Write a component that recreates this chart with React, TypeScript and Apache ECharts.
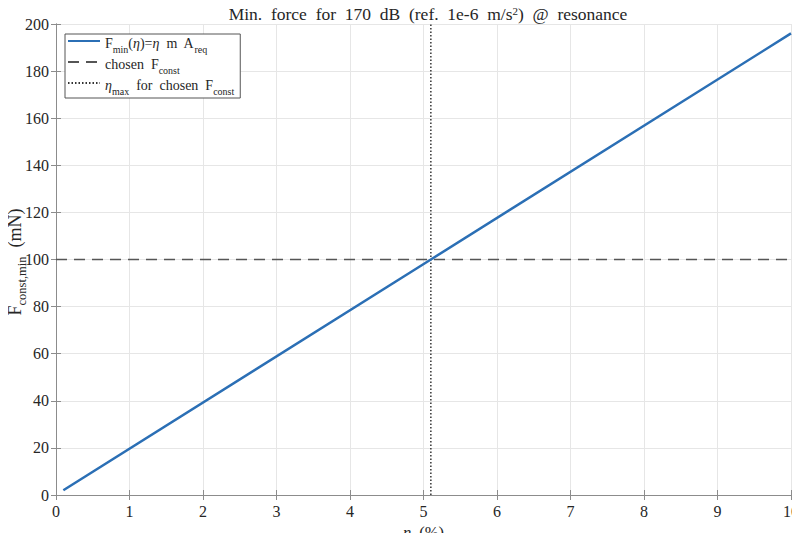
import { useEffect, useRef } from 'react';
import * as echarts from 'echarts';

// values
const etaLine = [0.1, 5.1, 10];
const forceLine = [2, 100, 196];
const chosenForce = 100;
const etaMax = 5.1;
const xTicks = [0, 1, 2, 3, 4, 5, 6, 7, 8, 9, 10];
const yTicks = [0, 20, 40, 60, 80, 100, 120, 140, 160, 180, 200];

const FONT = '"Liberation Serif", "Times New Roman", serif';
const TEXT = '#262626';
const AXIS = '#8c8c8c';

const rich = {
  n: { fontFamily: FONT, fontSize: 14, color: TEXT, lineHeight: 18, verticalAlign: 'bottom' },
  it: { fontFamily: FONT, fontSize: 14, color: TEXT, fontStyle: 'italic', lineHeight: 18, verticalAlign: 'bottom' },
  sub: { fontFamily: FONT, fontSize: 10, color: TEXT, lineHeight: 18, verticalAlign: 'bottom', padding: [0, 0, -4, 0] },
};

const legendNames = ['fmin', 'chosen', 'etamax'];
const legendLabels: Record<string, string> = {
  fmin: '{n|F}{sub|min}{n|(}{it|η}{n|)=}{it|η}{n|  m  A}{sub|req}',
  chosen: '{n|chosen  F}{sub|const}',
  etamax: '{it|η}{sub|max}{n|  for  chosen  F}{sub|const}',
};

const ChartView = () => {
  const containerRef = useRef<HTMLDivElement>(null);

  useEffect(() => {
    if (!containerRef.current) return;
    const chart = echarts.init(containerRef.current, null, { renderer: 'svg' });

    const tickStyle = { show: true, inside: true, length: 5, lineStyle: { color: AXIS } };
    const option: any = {
      animation: false,
      backgroundColor: '#ffffff',
      textStyle: { fontFamily: FONT },
      title: {
        text: 'Min.  force  for  170  dB  (ref.  1e-6  m/s{sup|2})  @  resonance',
        left: 423,
        textAlign: 'center',
        top: 0,
        textStyle: {
          fontFamily: FONT,
          fontSize: 17.5,
          fontWeight: 'normal',
          color: TEXT,
          rich: {
            sup: { fontFamily: FONT, fontSize: 11, color: TEXT, verticalAlign: 'top', padding: [0, 0, 7, 0] },
          },
        },
      },
      grid: { left: 56, right: 9, top: 24, bottom: 46, outerBoundsMode: 'none' },
      graphic: [
        {
          type: 'text',
          x: 13,
          y: 262,
          rotation: Math.PI / 2,
          style: {
            text: '{n|F}{sub|const,min}{n|  (mN)}',
            align: 'center',
            verticalAlign: 'middle',
            rich: {
              n: { fontFamily: FONT, fontSize: 18, fill: TEXT, lineHeight: 22, verticalAlign: 'bottom' },
              sub: { fontFamily: FONT, fontSize: 12.5, fill: TEXT, lineHeight: 22, verticalAlign: 'bottom', padding: [0, 0, -4, 0] },
            },
          },
        },
      ],
      legend: {
        data: legendNames,
        orient: 'vertical',
        left: 65,
        top: 34,
        itemWidth: 32,
        itemHeight: 12,
        itemGap: 3,
        padding: [2, 6, 2, 2],
        borderColor: '#555',
        borderWidth: 1,
        backgroundColor: '#fff',
        itemStyle: { opacity: 0 },
        formatter: (name: string) => legendLabels[name],
        textStyle: { rich },
      },
      xAxis: [
        {
          type: 'value',
          min: 0,
          max: 10,
          interval: 1,
          name: '{it|η}{n|  (%)}',
          nameLocation: 'middle',
          nameGap: 25,
          nameTextStyle: {
            rich: {
              n: { fontFamily: FONT, fontSize: 16.5, color: TEXT },
              it: { fontFamily: FONT, fontSize: 16.5, color: TEXT, fontStyle: 'italic' },
            },
          },
          axisLine: { show: true, lineStyle: { color: AXIS } },
          axisTick: tickStyle,
          axisLabel: {
            fontFamily: FONT,
            fontSize: 16,
            color: TEXT,
            margin: 8,
            formatter: (v: number) => (xTicks.includes(v) ? String(v) : ''),
          },
          splitLine: { show: true, lineStyle: { color: '#e6e6e6' } },
        },
        {
          type: 'value',
          position: 'top',
          min: 0,
          max: 10,
          interval: 1,
          axisLine: { show: true, lineStyle: { color: AXIS } },
          axisTick: tickStyle,
          axisLabel: { show: false },
          splitLine: { show: false },
        },
      ],
      yAxis: [
        {
          type: 'value',
          min: 0,
          max: 200,
          interval: 20,
          axisLine: { show: true, lineStyle: { color: AXIS } },
          axisTick: tickStyle,
          axisLabel: {
            fontFamily: FONT,
            fontSize: 16,
            color: TEXT,
            margin: 7,
            formatter: (v: number) => (yTicks.includes(v) ? String(v) : ''),
          },
          splitLine: { show: true, lineStyle: { color: '#e6e6e6' } },
        },
        {
          type: 'value',
          position: 'right',
          min: 0,
          max: 200,
          interval: 20,
          axisLine: { show: true, lineStyle: { color: AXIS } },
          axisTick: tickStyle,
          axisLabel: { show: false },
          splitLine: { show: false },
        },
      ],
      series: [
        {
          name: 'fmin',
          type: 'line',
          data: etaLine.map((e, i) => [e, forceLine[i]]),
          showSymbol: false,
          symbol: 'none',
          lineStyle: { color: '#2b6fb5', width: 2.5 },
          itemStyle: { color: '#2b6fb5' },
          z: 5,
        },
        {
          name: 'chosen',
          type: 'line',
          data: [[0, chosenForce], [10, chosenForce]],
          showSymbol: false,
          symbol: 'none',
          lineStyle: { color: '#555555', width: 1.5, type: [11, 7] },
          itemStyle: { color: '#555555' },
          z: 3,
        },
        {
          name: 'etamax',
          type: 'line',
          data: [[etaMax, 0], [etaMax, 200]],
          showSymbol: false,
          symbol: 'none',
          lineStyle: { color: '#333333', width: 1.5, type: [1.5, 2] },
          itemStyle: { color: '#333333' },
          z: 3,
        },
      ],
    };

    chart.setOption(option);
    return () => chart.dispose();
  }, []);

  return <div ref={containerRef} style={{ width: 800, height: 541 }} />;
};

export default function App() {
  return (
    <div style={{ margin: -8 }}>
      <ChartView />
    </div>
  );
}
